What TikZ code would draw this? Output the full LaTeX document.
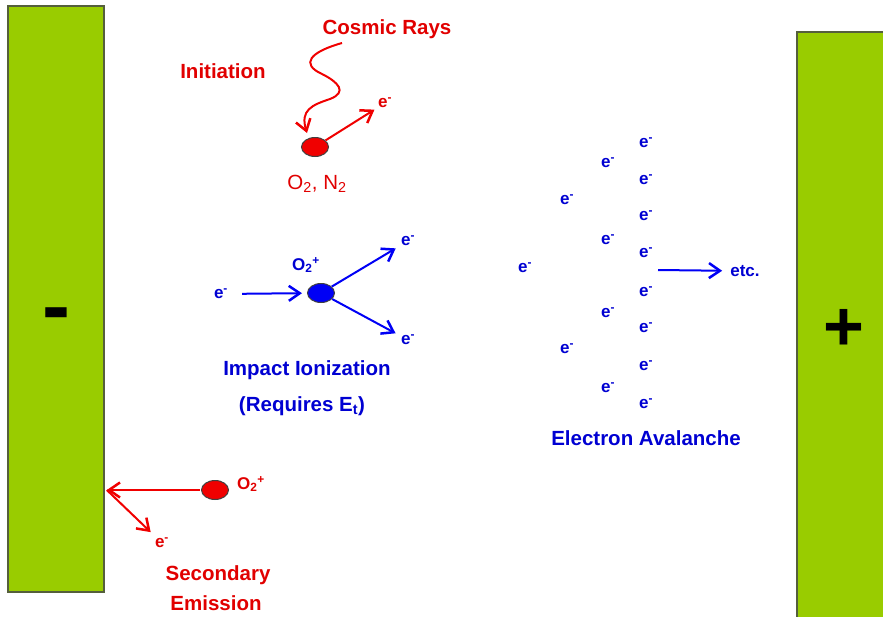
\documentclass[tikz,border=0pt]{standalone}
\usepackage{fontspec}
\setmainfont{Liberation Sans}
\usepackage{xcolor}
\definecolor{plategreen}{RGB}{153, 204, 0}
\definecolor{plateedge}{RGB}{85, 95, 60}
\definecolor{ionred}{RGB}{240, 0, 0}
\definecolor{labred}{RGB}{225, 0, 0}
\definecolor{ionblue}{RGB}{0, 0, 245}
\definecolor{labblue}{RGB}{0, 0, 210}
\usetikzlibrary{
    shapes.geometric,
    arrows.meta,
    positioning
}

\newcommand{\elec}{e\textsuperscript{-}}
\newcommand{\oxion}{O\textsubscript{2}\textsuperscript{+}}

\begin{document}
\begin{tikzpicture}[
    x=1pt, y=-1pt,
    >={Straight Barb[length=11pt, width=15pt, line width=2.5pt]},
    plate/.style={draw=plateedge, line width=1.6pt, fill=plategreen, inner sep=0pt},
    sign/.style={font=\fontsize{80}{80}\selectfont\bfseries, inner sep=0pt},
    molecule/.style={ellipse, draw=black!75, line width=1pt, minimum width=27pt, minimum height=19pt, inner sep=0pt},
    bigtext/.style={font=\fontsize{20.5}{24}\selectfont\bfseries, inner sep=0pt},
    redlabel/.style={bigtext, text=labred},
    bluelabel/.style={bigtext, text=labblue},
    smalltext/.style={font=\fontsize{17}{18}\selectfont\bfseries, inner sep=0pt},
    redarrow/.style={->, draw=ionred, line width=2pt},
    bluearrow/.style={->, draw=ionblue, line width=2pt}
]
\useasboundingbox (0,0) rectangle (883,616);

% ==================== ELECTRODES ====================
\node[plate, minimum width=96pt, minimum height=586pt] (cathode) at (56,299) {};
\node[sign, font=\fontsize{84}{84}\selectfont\bfseries] (minus) at (56,321) {-};
\begin{scope}
    \clip (0,0) rectangle (883,616);
    \node[plate, minimum width=120pt, minimum height=620pt] (anode) at (857,342) {};
\end{scope}
\node[sign, font=\fontsize{70}{70}\selectfont\bfseries] (plus) at (844,330) {+};

% ==================== INITIATION ====================
\node[redlabel] (cosmic) at (387,29) {Cosmic Rays};
\node[redlabel] (initlabel) at (223,71) {Initiation};
\node[molecule, fill=ionred] (initmol) at (315,147) {};
\node[smalltext, text=labred] (initE) at (385,103) {\elec};
\node[bigtext, font=\fontsize{20.5}{24}\selectfont, text=labred] (initgas) at (317,184) {O\textsubscript{2}, N\textsubscript{2}};

\coordinate (raystart) at (342,43);
\coordinate (rayend) at (307,133);
\draw[redarrow] (raystart) .. controls (310,52) and (300,64) .. (322,74)
    .. controls (338,82) and (348,92) .. (330,99)
    .. controls (312,105) and (300,110) .. (rayend);
\draw[redarrow, shorten >=4pt] (initmol) -- (initE);

% ==================== IMPACT IONIZATION ====================
\node[molecule, fill=ionblue] (ionmol) at (321,293) {};
\node[smalltext, text=labblue] (ionlabel) at (306,265) {\oxion};
\node[smalltext, text=labblue] (inE) at (221,294) {\elec};
\node[smalltext, text=labblue] (outEa) at (408,241) {\elec};
\node[smalltext, text=labblue] (outEb) at (408,340) {\elec};
\node[bluelabel] (impact) at (307,370) {Impact Ionization};
\node[bluelabel] (requires) at (302,406) {(Requires E\textsubscript{t})};

\draw[bluearrow, shorten <=14pt, shorten >=5pt] (inE) -- (ionmol);
\draw[bluearrow, shorten >=6pt] (ionmol) -- (outEa);
\draw[bluearrow, shorten >=6pt] (ionmol) -- (outEb);

% ==================== ELECTRON AVALANCHE ====================
\foreach \ypos [count=\i] in {143,180,216,253,292,328,366,404} {
    \node[smalltext, text=labblue] (avalA\i) at (646,\ypos) {\elec};
}
\foreach \ypos [count=\i] in {163,240,313,388} {
    \node[smalltext, text=labblue] (avalB\i) at (608,\ypos) {\elec};
}
\foreach \ypos [count=\i] in {200,349} {
    \node[smalltext, text=labblue] (avalC\i) at (567,\ypos) {\elec};
}
\node[smalltext, text=labblue] (avalD) at (525,268) {\elec};
\node[smalltext, text=labblue] (etc) at (745,271) {etc.};
\node[bluelabel] (avalanche) at (646,438) {Electron Avalanche};

\coordinate (avstart) at (658,270);
\draw[bluearrow, shorten >=8pt] (avstart) -- (etc);

% ==================== SECONDARY EMISSION ====================
\node[molecule, fill=ionred] (secmol) at (215,490) {};
\node[smalltext, text=labred] (seclabel) at (251,484) {\oxion};
\node[smalltext, text=labred] (secE) at (162,543) {\elec};
\node[redlabel] (secondary) at (218,575) {Secondary};
\node[redlabel] (emission) at (216,603) {Emission};

\coordinate (hit) at (secmol -| cathode.east);
\draw[redarrow, shorten <=1pt] (secmol) -- ([xshift=2pt]hit);
\draw[redarrow, shorten >=8pt] ([xshift=2pt]hit) -- (secE);

\end{tikzpicture}
\end{document}
